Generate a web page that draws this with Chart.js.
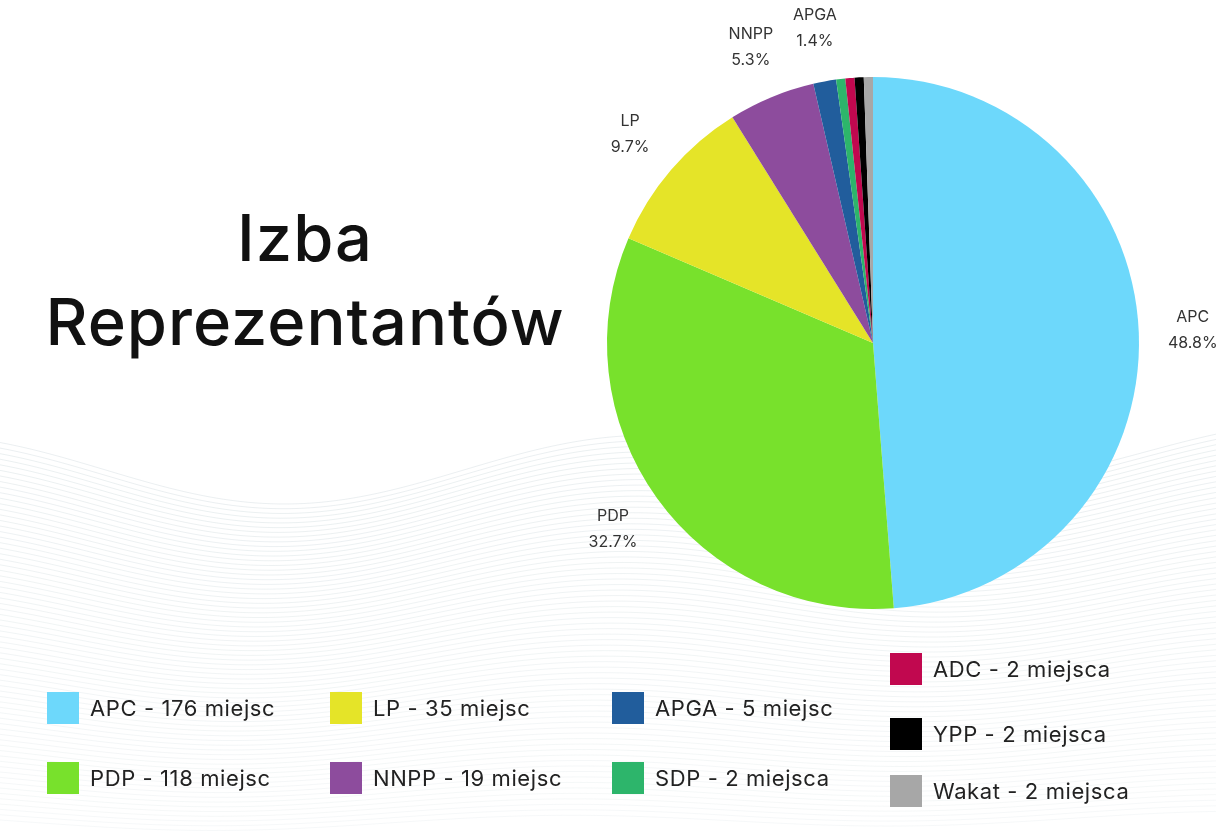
<!DOCTYPE html>
<html>
<head>
<meta charset="utf-8">
<script src="https://cdn.jsdelivr.net/npm/chart.js@4"></script>
<style>
  html, body { margin: 0; padding: 0; background: #fff; }
  #wrap { position: relative; width: 1216px; height: 832px; overflow: hidden; font-family: 'Inter', 'Lato', sans-serif; }
  #myChart { position: absolute; left: 0; top: 0; }
  #title { position: absolute; left: 0; width: 610px; top: 196px; text-align: center; font-size: 65px; line-height: 84px; color: #111; font-weight: 500; letter-spacing: 1px; }
  .leg { position: absolute; display: flex; align-items: center; font-size: 22px; color: #222; white-space: nowrap; letter-spacing: 0.6px; }
  .leg span.box { display: inline-block; width: 32px; height: 32px; margin-right: 11px; }
</style>
</head>
<body>
<div id="wrap">
  <canvas id="myChart" width="1216" height="832"></canvas>
  <div id="title">Izba<br>Reprezentantów</div>
  <div id="legend"></div>
</div>
<script>
// Izba Reprezentantów - seats by party

const parties = ['APC', 'PDP', 'LP', 'NNPP', 'APGA', 'SDP', 'ADC', 'YPP', 'Wakat'];
const seats = [176, 118, 35, 19, 5, 2, 2, 2, 2];
const percentLabels = ['48.8%', '32.7%', '9.7%', '5.3%', '1.4%', '', '', '', ''];
const seatWords = ['miejsc', 'miejsc', 'miejsc', 'miejsc', 'miejsc', 'miejsca', 'miejsca', 'miejsca', 'miejsca'];
const colors = ['#6dd8fb', '#78e12c', '#e5e428', '#8d4c9d', '#215d9c', '#2db56b', '#c1084f', '#000000', '#a7a7a7'];

// legend placement (column x, row y) for each party
const legendPos = [
    [47, 692], [47, 762], [330, 692], [330, 762], [612, 692], [612, 762],
    [890, 653], [890, 718], [890, 775]
];

const legendDiv = document.getElementById('legend');
parties.forEach((p, i) => {
    const el = document.createElement('div');
    el.className = 'leg';
    el.style.left = legendPos[i][0] + 'px';
    el.style.top = legendPos[i][1] + 'px';
    el.innerHTML = '<span class="box" style="background:' + colors[i] + '"></span>' +
        p + ' - ' + seats[i] + ' ' + seatWords[i];
    legendDiv.appendChild(el);
});

// faint wavy lines in the background
const wavesPlugin = {
    id: 'waves',
    beforeDraw(chart) {
        const c = chart.ctx;
        c.save();
        c.lineWidth = 1;
        for (let k = 0; k < 70; k++) {
            c.strokeStyle = 'rgba(170, 190, 195, ' + (0.24 - k * 0.002) + ')';
            c.beginPath();
            for (let x = 0; x <= 1216; x += 8) {
                const t = x / 1216;
                const amp = 1 - k / 90;
                const y = 462 + k * 5.2
                    + amp * (30 * Math.sin(t * 11 - 1.0 + k * 0.01) + 12 * Math.sin(t * 4.5 + 0.5));
                if (x === 0) c.moveTo(x, y); else c.lineTo(x, y);
            }
            c.stroke();
        }
        c.restore();
    }
};

// slice labels outside the pie
const sliceLabels = {
    id: 'sliceLabels',
    afterDatasetsDraw(chart) {
        const c = chart.ctx;
        const meta = chart.getDatasetMeta(0);
        c.save();
        c.font = '16px Inter, Lato, sans-serif';
        c.fillStyle = '#333';
        c.textAlign = 'center';
        c.textBaseline = 'middle';
        meta.data.forEach((arc, i) => {
            if (!percentLabels[i]) return;
            const mid = (arc.startAngle + arc.endAngle) / 2;
            const r = arc.outerRadius + 54;
            const x = arc.x + Math.cos(mid) * r;
            const y = arc.y + Math.sin(mid) * r;
            c.fillText(parties[i], x, y - 13);
            c.fillText(percentLabels[i], x, y + 13);
        });
        c.restore();
    }
};

const ctx = document.getElementById('myChart');

const chart = new Chart(ctx, {
    type: 'pie',
    data: {
        labels: parties,
        datasets: [{
            data: seats,
            backgroundColor: colors,
            borderWidth: 0
        }]
    },
    options: {
        responsive: false,
        animation: false,
        layout: {
            padding: { left: 607, right: 77, top: 77, bottom: 223 }
        },
        plugins: {
            legend: { display: false },
            tooltip: { enabled: false }
        }
    },
    plugins: [wavesPlugin, sliceLabels]
});
</script>
</body>
</html>
